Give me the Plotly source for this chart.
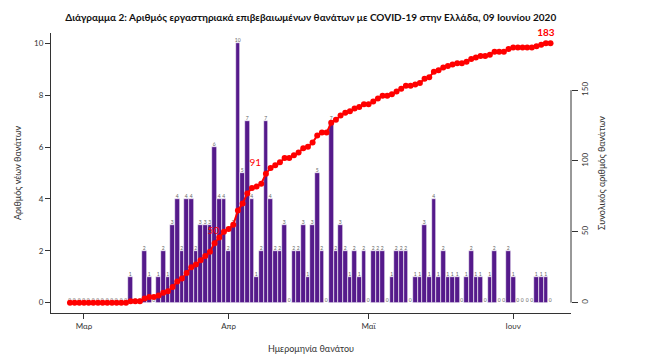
import numpy as np
import pandas as pd
import plotly.graph_objects as go

# ---------------- data ----------------
start_date = "2020-02-27"
daily_deaths = [0, 0, 0, 0, 0, 0, 0, 0, 0, 0, 0, 0, 0,
                1, 0, 0, 2, 1, 0, 1, 2, 1, 3, 4, 2, 4, 4, 2, 3, 3, 3, 6, 4, 4,
                2, 3, 10, 5, 7, 4, 1, 2, 7, 4, 2, 2, 3, 0, 2, 2, 3, 1, 3, 5, 2, 0,
                7, 2, 3, 2, 1, 2, 1, 2, 0, 2, 2, 2, 0, 1, 2, 2, 2, 0, 1, 1, 3, 1,
                4, 1, 2, 1, 1, 1, 0, 1, 2, 1, 1, 0, 1, 2, 0, 0, 2, 1, 0, 0, 0, 0,
                1, 1, 1, 0]
dates = pd.date_range(start_date, periods=len(daily_deaths), freq="D")
cumulative = np.cumsum(daily_deaths)
highlight_totals = [50, 91, 183]

month_ticks = ["2020-03-01", "2020-04-01", "2020-05-01", "2020-06-01"]
month_labels = ["Μαρ", "Απρ", "Μαϊ", "Ιουν"]
left_ticks = [0, 2, 4, 6, 8, 10]
right_ticks = [0, 50, 100, 150]

title_text = "Διάγραμμα 2: Αριθμός εργαστηριακά επιβεβαιωμένων θανάτων με COVID-19 στην Ελλάδα, 09 Ιουνίου 2020"

# ---------------- styling ----------------
FONT = "Lato"
BAR_COLOR = "#551A8B"
LINE_COLOR = "#FF0000"

# labels on the cumulative line (first day each highlighted total is reached)
line_text, line_pos = [], []
done = set()
for c in cumulative:
    if c in highlight_totals and c not in done:
        done.add(c)
        if c == max(highlight_totals):
            line_text.append(f"<b>{c}</b>")
            line_pos.append("top center")
        else:
            line_text.append(str(c))
            line_pos.append("top left" if c != highlight_totals[0] else "middle left")
    else:
        line_text.append("")
        line_pos.append("top center")

fig = go.Figure()

fig.add_trace(go.Bar(
    x=dates, y=daily_deaths,
    marker=dict(color=BAR_COLOR, line=dict(color="white", width=0.6)),
    text=[str(v) for v in daily_deaths],
    textposition="outside",
    textfont=dict(size=5, color="#666666", family=FONT),
    constraintext="none",
    cliponaxis=False,
    width=86400000,
    showlegend=False,
))

fig.add_trace(go.Scatter(
    x=dates, y=cumulative, yaxis="y2",
    mode="lines+markers+text",
    line=dict(color=LINE_COLOR, width=2),
    marker=dict(color=LINE_COLOR, size=6),
    text=line_text, textposition=line_pos,
    textfont=dict(size=10, color=LINE_COLOR, family=FONT),
    cliponaxis=False,
    showlegend=False,
))

d0 = pd.Timestamp(start_date)
day_px = 4.67
x_range = [d0 + pd.Timedelta(days=-19 / day_px), d0 + pd.Timedelta(days=501.5 / day_px)]

tick_font = dict(family=FONT, size=8, color="#333333")
title_font = dict(family=FONT, size=9, color="#333333")
fig.update_layout(
    width=650, height=363,
    margin=dict(l=51, r=78.5, t=32.6, b=49.6, autoexpand=False),
    paper_bgcolor="white", plot_bgcolor="white",
    bargap=0,
    title=dict(text=f"<b>{title_text}</b>", x=0.478, xanchor="center",
               y=1 - 17 / 363, yanchor="middle", yref="container",
               font=dict(family=FONT, size=10, color="#111111")),
    xaxis=dict(
        range=x_range, tickvals=pd.to_datetime(month_ticks), ticktext=month_labels,
        showline=True, linecolor="#333333", linewidth=1, automargin=False,
        ticks="outside", ticklen=5, tickcolor="#333333",
        showgrid=False, zeroline=False, tickfont=tick_font,
        title=dict(text="Ημερομηνία θανάτου", font=title_font, standoff=16),
    ),
    yaxis=dict(
        range=[-0.4, 10.4], tickvals=left_ticks, automargin=False,
        showline=True, linecolor="#333333", linewidth=1,
        ticks="outside", ticklen=5, tickcolor="#333333",
        showgrid=False, zeroline=False, tickfont=tick_font,
        title=dict(text="Αριθμός νέων θανάτων", font=title_font, standoff=10),
    ),
    yaxis2=dict(
        range=[-0.04 * 183, 1.04 * 183], tickvals=right_ticks, overlaying="y", side="right",
        showline=False, ticks="outside", ticklen=6, tickcolor="#333333", automargin=False,
        tickangle=-90, showgrid=False, zeroline=False, tickfont=tick_font,
        title=dict(text="Συνολικός αριθμός θανάτων", font=title_font, standoff=10),
    ),
)

# right axis line only between first and last tick (R style)
fig.add_shape(type="line", xref="paper", yref="y2", x0=1, x1=1,
              y0=right_ticks[0], y1=right_ticks[-1],
              line=dict(color="#333333", width=1))

fig.write_html("out.html", config={"displayModeBar": False},
               post_script="document.body.style.margin='0';")
